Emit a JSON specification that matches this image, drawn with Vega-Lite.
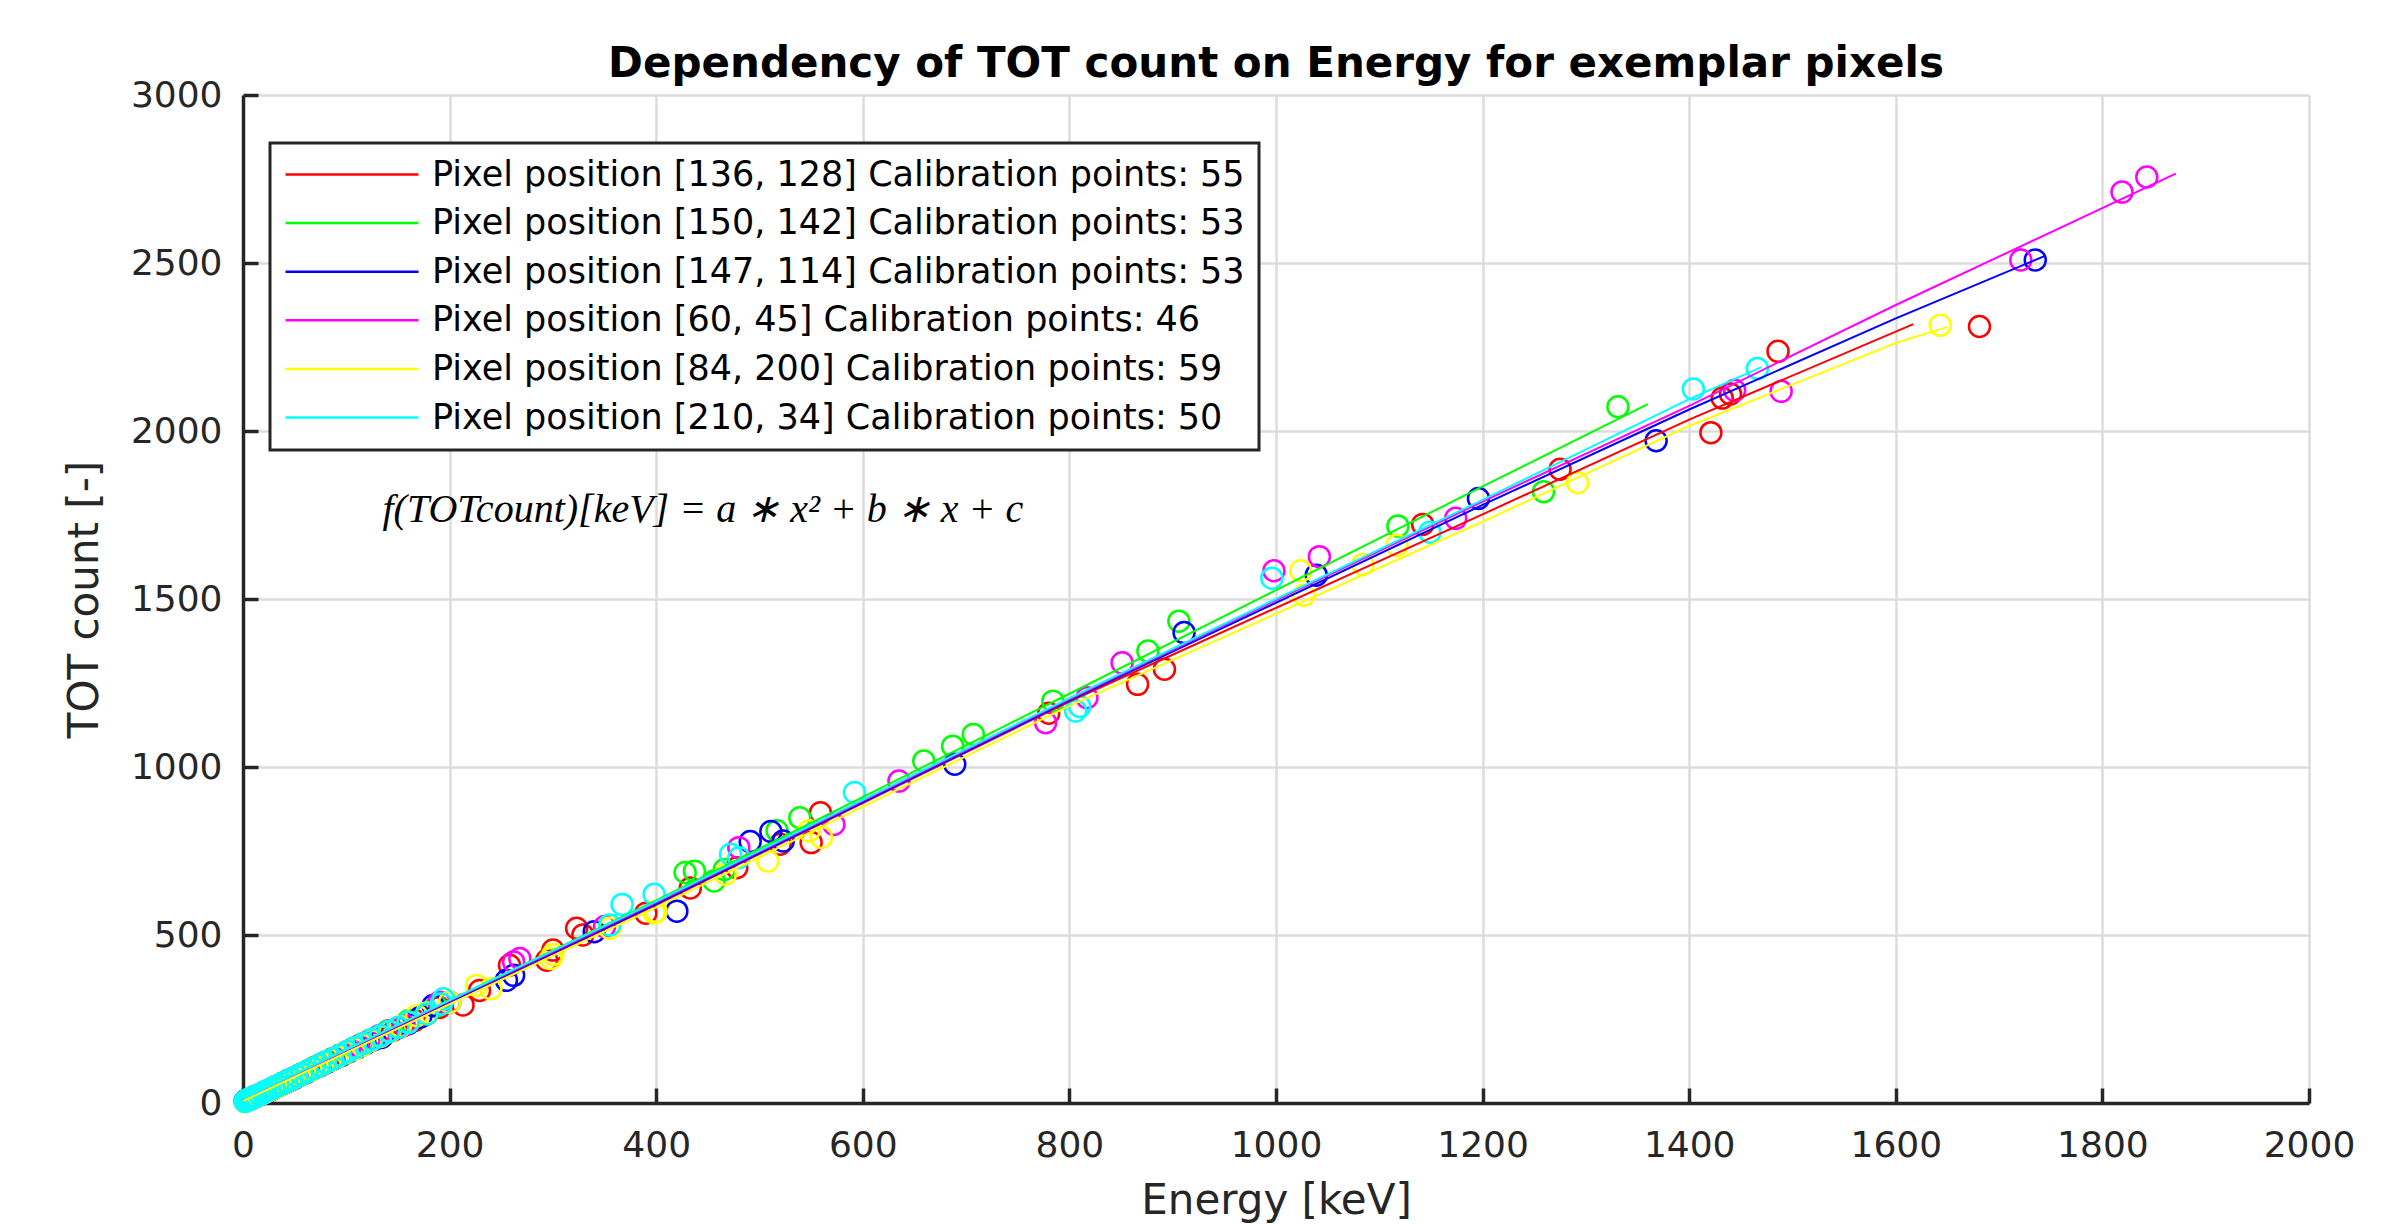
{
"$schema": "https://vega.github.io/schema/vega-lite/v6.json",
"width": 2066, "height": 1008,
"autosize": {"type": "none"},
"padding": {"left": 243, "top": 95, "right": 96, "bottom": 121},
"background": "white",
"title": {"text": "Dependency of TOT count on Energy for exemplar pixels", "font": "DejaVu Sans", "fontSize": 42, "fontWeight": "bold", "color": "black", "anchor": "middle", "baseline": "bottom", "offset": 14, "dy": 65},
"config": {"view": {"stroke": null}, "legend": {"strokeWidth": 3}},
"datasets": {
"fit": [
{"s":"Pixel position [136, 128] Calibration points: 55","E":0,"T":8},{"s":"Pixel position [136, 128] Calibration points: 55","E":400,"T":590},{"s":"Pixel position [136, 128] Calibration points: 55","E":800,"T":1195},{"s":"Pixel position [136, 128] Calibration points: 55","E":1200,"T":1752},{"s":"Pixel position [136, 128] Calibration points: 55","E":1400,"T":2034},{"s":"Pixel position [136, 128] Calibration points: 55","E":1617,"T":2318},
{"s":"Pixel position [150, 142] Calibration points: 53","E":0,"T":8},{"s":"Pixel position [150, 142] Calibration points: 53","E":400,"T":603},{"s":"Pixel position [150, 142] Calibration points: 53","E":800,"T":1218},{"s":"Pixel position [150, 142] Calibration points: 53","E":1200,"T":1835},{"s":"Pixel position [150, 142] Calibration points: 53","E":1360,"T":2080},
{"s":"Pixel position [147, 114] Calibration points: 53","E":0,"T":8},{"s":"Pixel position [147, 114] Calibration points: 53","E":400,"T":592},{"s":"Pixel position [147, 114] Calibration points: 53","E":800,"T":1198},{"s":"Pixel position [147, 114] Calibration points: 53","E":1200,"T":1780},{"s":"Pixel position [147, 114] Calibration points: 53","E":1400,"T":2064},{"s":"Pixel position [147, 114] Calibration points: 53","E":1600,"T":2335},{"s":"Pixel position [147, 114] Calibration points: 53","E":1745,"T":2522},
{"s":"Pixel position [60, 45] Calibration points: 46","E":0,"T":10},{"s":"Pixel position [60, 45] Calibration points: 46","E":400,"T":597},{"s":"Pixel position [60, 45] Calibration points: 46","E":800,"T":1202},{"s":"Pixel position [60, 45] Calibration points: 46","E":1200,"T":1790},{"s":"Pixel position [60, 45] Calibration points: 46","E":1400,"T":2075},{"s":"Pixel position [60, 45] Calibration points: 46","E":1600,"T":2375},{"s":"Pixel position [60, 45] Calibration points: 46","E":1871,"T":2766},
{"s":"Pixel position [84, 200] Calibration points: 59","E":0,"T":6},{"s":"Pixel position [84, 200] Calibration points: 59","E":400,"T":582},{"s":"Pixel position [84, 200] Calibration points: 59","E":800,"T":1182},{"s":"Pixel position [84, 200] Calibration points: 59","E":1200,"T":1730},{"s":"Pixel position [84, 200] Calibration points: 59","E":1400,"T":2015},{"s":"Pixel position [84, 200] Calibration points: 59","E":1600,"T":2262},{"s":"Pixel position [84, 200] Calibration points: 59","E":1650,"T":2310},
{"s":"Pixel position [210, 34] Calibration points: 50","E":0,"T":12},{"s":"Pixel position [210, 34] Calibration points: 50","E":400,"T":600},{"s":"Pixel position [210, 34] Calibration points: 50","E":800,"T":1205},{"s":"Pixel position [210, 34] Calibration points: 50","E":1200,"T":1795},{"s":"Pixel position [210, 34] Calibration points: 50","E":1400,"T":2095},{"s":"Pixel position [210, 34] Calibration points: 50","E":1470,"T":2190}
],
"pts": [
{"s":"Pixel position [136, 128] Calibration points: 55","E":3,"T":7},{"s":"Pixel position [136, 128] Calibration points: 55","E":5,"T":10},{"s":"Pixel position [136, 128] Calibration points: 55","E":8,"T":13},{"s":"Pixel position [136, 128] Calibration points: 55","E":11,"T":18},{"s":"Pixel position [136, 128] Calibration points: 55","E":14,"T":22},{"s":"Pixel position [136, 128] Calibration points: 55","E":17,"T":26},{"s":"Pixel position [136, 128] Calibration points: 55","E":20,"T":31},{"s":"Pixel position [136, 128] Calibration points: 55","E":24,"T":36},{"s":"Pixel position [136, 128] Calibration points: 55","E":28,"T":42},{"s":"Pixel position [136, 128] Calibration points: 55","E":32,"T":49},{"s":"Pixel position [136, 128] Calibration points: 55","E":36,"T":54},{"s":"Pixel position [136, 128] Calibration points: 55","E":41,"T":62},{"s":"Pixel position [136, 128] Calibration points: 55","E":46,"T":68},{"s":"Pixel position [136, 128] Calibration points: 55","E":51,"T":77},{"s":"Pixel position [136, 128] Calibration points: 55","E":56,"T":84},{"s":"Pixel position [136, 128] Calibration points: 55","E":60,"T":89},{"s":"Pixel position [136, 128] Calibration points: 55","E":65,"T":97},{"s":"Pixel position [136, 128] Calibration points: 55","E":70,"T":106},{"s":"Pixel position [136, 128] Calibration points: 55","E":76,"T":113},{"s":"Pixel position [136, 128] Calibration points: 55","E":82,"T":122},{"s":"Pixel position [136, 128] Calibration points: 55","E":88,"T":132},{"s":"Pixel position [136, 128] Calibration points: 55","E":95,"T":141},{"s":"Pixel position [136, 128] Calibration points: 55","E":102,"T":152},{"s":"Pixel position [136, 128] Calibration points: 55","E":110,"T":163},{"s":"Pixel position [136, 128] Calibration points: 55","E":118,"T":176},{"s":"Pixel position [136, 128] Calibration points: 55","E":126,"T":188},{"s":"Pixel position [136, 128] Calibration points: 55","E":135,"T":200},{"s":"Pixel position [136, 128] Calibration points: 55","E":145,"T":216},{"s":"Pixel position [136, 128] Calibration points: 55","E":155,"T":230},{"s":"Pixel position [136, 128] Calibration points: 55","E":166,"T":246},{"s":"Pixel position [136, 128] Calibration points: 55","E":178,"T":265},{"s":"Pixel position [136, 128] Calibration points: 55","E":190,"T":284},{"s":"Pixel position [136, 128] Calibration points: 55","E":213,"T":292},
{"s":"Pixel position [136, 128] Calibration points: 55","E":229,"T":335},{"s":"Pixel position [136, 128] Calibration points: 55","E":258,"T":410},{"s":"Pixel position [136, 128] Calibration points: 55","E":294,"T":425},{"s":"Pixel position [136, 128] Calibration points: 55","E":300,"T":455},{"s":"Pixel position [136, 128] Calibration points: 55","E":323,"T":520},{"s":"Pixel position [136, 128] Calibration points: 55","E":329,"T":500},{"s":"Pixel position [136, 128] Calibration points: 55","E":390,"T":565},{"s":"Pixel position [136, 128] Calibration points: 55","E":433,"T":640},{"s":"Pixel position [136, 128] Calibration points: 55","E":478,"T":700},{"s":"Pixel position [136, 128] Calibration points: 55","E":520,"T":770},{"s":"Pixel position [136, 128] Calibration points: 55","E":550,"T":775},{"s":"Pixel position [136, 128] Calibration points: 55","E":559,"T":864},{"s":"Pixel position [136, 128] Calibration points: 55","E":780,"T":1160},{"s":"Pixel position [136, 128] Calibration points: 55","E":866,"T":1246},{"s":"Pixel position [136, 128] Calibration points: 55","E":892,"T":1291},{"s":"Pixel position [136, 128] Calibration points: 55","E":1142,"T":1722},{"s":"Pixel position [136, 128] Calibration points: 55","E":1275,"T":1886},{"s":"Pixel position [136, 128] Calibration points: 55","E":1421,"T":1995},{"s":"Pixel position [136, 128] Calibration points: 55","E":1432,"T":2098},{"s":"Pixel position [136, 128] Calibration points: 55","E":1440,"T":2110},{"s":"Pixel position [136, 128] Calibration points: 55","E":1486,"T":2237},{"s":"Pixel position [136, 128] Calibration points: 55","E":1681,"T":2311},
{"s":"Pixel position [150, 142] Calibration points: 53","E":2,"T":5},{"s":"Pixel position [150, 142] Calibration points: 53","E":3,"T":8},{"s":"Pixel position [150, 142] Calibration points: 53","E":5,"T":9},{"s":"Pixel position [150, 142] Calibration points: 53","E":6,"T":11},{"s":"Pixel position [150, 142] Calibration points: 53","E":8,"T":13},{"s":"Pixel position [150, 142] Calibration points: 53","E":9,"T":15},{"s":"Pixel position [150, 142] Calibration points: 53","E":11,"T":17},{"s":"Pixel position [150, 142] Calibration points: 53","E":12,"T":19},{"s":"Pixel position [150, 142] Calibration points: 53","E":14,"T":22},{"s":"Pixel position [150, 142] Calibration points: 53","E":15,"T":24},{"s":"Pixel position [150, 142] Calibration points: 53","E":17,"T":26},{"s":"Pixel position [150, 142] Calibration points: 53","E":18,"T":28},{"s":"Pixel position [150, 142] Calibration points: 53","E":21,"T":32},{"s":"Pixel position [150, 142] Calibration points: 53","E":22,"T":34},{"s":"Pixel position [150, 142] Calibration points: 53","E":25,"T":38},{"s":"Pixel position [150, 142] Calibration points: 53","E":26,"T":40},{"s":"Pixel position [150, 142] Calibration points: 53","E":29,"T":44},{"s":"Pixel position [150, 142] Calibration points: 53","E":30,"T":46},{"s":"Pixel position [150, 142] Calibration points: 53","E":34,"T":52},{"s":"Pixel position [150, 142] Calibration points: 53","E":38,"T":58},{"s":"Pixel position [150, 142] Calibration points: 53","E":43,"T":66},{"s":"Pixel position [150, 142] Calibration points: 53","E":48,"T":73},{"s":"Pixel position [150, 142] Calibration points: 53","E":53,"T":81},{"s":"Pixel position [150, 142] Calibration points: 53","E":58,"T":88},{"s":"Pixel position [150, 142] Calibration points: 53","E":63,"T":96},{"s":"Pixel position [150, 142] Calibration points: 53","E":68,"T":104},{"s":"Pixel position [150, 142] Calibration points: 53","E":74,"T":113},{"s":"Pixel position [150, 142] Calibration points: 53","E":80,"T":122},{"s":"Pixel position [150, 142] Calibration points: 53","E":86,"T":131},{"s":"Pixel position [150, 142] Calibration points: 53","E":93,"T":141},{"s":"Pixel position [150, 142] Calibration points: 53","E":100,"T":152},{"s":"Pixel position [150, 142] Calibration points: 53","E":107,"T":163},{"s":"Pixel position [150, 142] Calibration points: 53","E":115,"T":175},{"s":"Pixel position [150, 142] Calibration points: 53","E":123,"T":187},{"s":"Pixel position [150, 142] Calibration points: 53","E":131,"T":199},{"s":"Pixel position [150, 142] Calibration points: 53","E":140,"T":214},{"s":"Pixel position [150, 142] Calibration points: 53","E":160,"T":245},{"s":"Pixel position [150, 142] Calibration points: 53","E":187,"T":288},
{"s":"Pixel position [150, 142] Calibration points: 53","E":428,"T":686},{"s":"Pixel position [150, 142] Calibration points: 53","E":437,"T":690},{"s":"Pixel position [150, 142] Calibration points: 53","E":456,"T":661},{"s":"Pixel position [150, 142] Calibration points: 53","E":466,"T":695},{"s":"Pixel position [150, 142] Calibration points: 53","E":517,"T":810},{"s":"Pixel position [150, 142] Calibration points: 53","E":539,"T":849},{"s":"Pixel position [150, 142] Calibration points: 53","E":659,"T":1018},{"s":"Pixel position [150, 142] Calibration points: 53","E":687,"T":1062},{"s":"Pixel position [150, 142] Calibration points: 53","E":707,"T":1097},{"s":"Pixel position [150, 142] Calibration points: 53","E":784,"T":1196},{"s":"Pixel position [150, 142] Calibration points: 53","E":876,"T":1345},{"s":"Pixel position [150, 142] Calibration points: 53","E":906,"T":1434},{"s":"Pixel position [150, 142] Calibration points: 53","E":1118,"T":1717},{"s":"Pixel position [150, 142] Calibration points: 53","E":1259,"T":1819},{"s":"Pixel position [150, 142] Calibration points: 53","E":1331,"T":2072},
{"s":"Pixel position [147, 114] Calibration points: 53","E":2,"T":6},{"s":"Pixel position [147, 114] Calibration points: 53","E":4,"T":8},{"s":"Pixel position [147, 114] Calibration points: 53","E":6,"T":10},{"s":"Pixel position [147, 114] Calibration points: 53","E":8,"T":13},{"s":"Pixel position [147, 114] Calibration points: 53","E":10,"T":16},{"s":"Pixel position [147, 114] Calibration points: 53","E":12,"T":19},{"s":"Pixel position [147, 114] Calibration points: 53","E":14,"T":22},{"s":"Pixel position [147, 114] Calibration points: 53","E":16,"T":25},{"s":"Pixel position [147, 114] Calibration points: 53","E":18,"T":27},{"s":"Pixel position [147, 114] Calibration points: 53","E":20,"T":30},{"s":"Pixel position [147, 114] Calibration points: 53","E":23,"T":34},{"s":"Pixel position [147, 114] Calibration points: 53","E":25,"T":37},{"s":"Pixel position [147, 114] Calibration points: 53","E":28,"T":42},{"s":"Pixel position [147, 114] Calibration points: 53","E":30,"T":45},{"s":"Pixel position [147, 114] Calibration points: 53","E":33,"T":49},{"s":"Pixel position [147, 114] Calibration points: 53","E":35,"T":52},{"s":"Pixel position [147, 114] Calibration points: 53","E":38,"T":57},{"s":"Pixel position [147, 114] Calibration points: 53","E":40,"T":60},{"s":"Pixel position [147, 114] Calibration points: 53","E":43,"T":64},{"s":"Pixel position [147, 114] Calibration points: 53","E":45,"T":67},{"s":"Pixel position [147, 114] Calibration points: 53","E":48,"T":72},{"s":"Pixel position [147, 114] Calibration points: 53","E":50,"T":74},{"s":"Pixel position [147, 114] Calibration points: 53","E":55,"T":82},{"s":"Pixel position [147, 114] Calibration points: 53","E":61,"T":91},{"s":"Pixel position [147, 114] Calibration points: 53","E":67,"T":100},{"s":"Pixel position [147, 114] Calibration points: 53","E":73,"T":109},{"s":"Pixel position [147, 114] Calibration points: 53","E":80,"T":119},{"s":"Pixel position [147, 114] Calibration points: 53","E":87,"T":130},{"s":"Pixel position [147, 114] Calibration points: 53","E":94,"T":140},{"s":"Pixel position [147, 114] Calibration points: 53","E":102,"T":152},{"s":"Pixel position [147, 114] Calibration points: 53","E":110,"T":164},{"s":"Pixel position [147, 114] Calibration points: 53","E":118,"T":176},{"s":"Pixel position [147, 114] Calibration points: 53","E":127,"T":189},{"s":"Pixel position [147, 114] Calibration points: 53","E":134,"T":195},{"s":"Pixel position [147, 114] Calibration points: 53","E":140,"T":210},{"s":"Pixel position [147, 114] Calibration points: 53","E":150,"T":224},{"s":"Pixel position [147, 114] Calibration points: 53","E":160,"T":236},{"s":"Pixel position [147, 114] Calibration points: 53","E":172,"T":256},{"s":"Pixel position [147, 114] Calibration points: 53","E":184,"T":290},{"s":"Pixel position [147, 114] Calibration points: 53","E":200,"T":300},
{"s":"Pixel position [147, 114] Calibration points: 53","E":255,"T":365},{"s":"Pixel position [147, 114] Calibration points: 53","E":262,"T":380},{"s":"Pixel position [147, 114] Calibration points: 53","E":340,"T":510},{"s":"Pixel position [147, 114] Calibration points: 53","E":420,"T":571},{"s":"Pixel position [147, 114] Calibration points: 53","E":491,"T":778},{"s":"Pixel position [147, 114] Calibration points: 53","E":511,"T":808},{"s":"Pixel position [147, 114] Calibration points: 53","E":523,"T":780},{"s":"Pixel position [147, 114] Calibration points: 53","E":689,"T":1008},{"s":"Pixel position [147, 114] Calibration points: 53","E":911,"T":1400},{"s":"Pixel position [147, 114] Calibration points: 53","E":1039,"T":1571},{"s":"Pixel position [147, 114] Calibration points: 53","E":1196,"T":1799},{"s":"Pixel position [147, 114] Calibration points: 53","E":1368,"T":1971},{"s":"Pixel position [147, 114] Calibration points: 53","E":1735,"T":2509},
{"s":"Pixel position [60, 45] Calibration points: 46","E":3,"T":7},{"s":"Pixel position [60, 45] Calibration points: 46","E":5,"T":10},{"s":"Pixel position [60, 45] Calibration points: 46","E":7,"T":12},{"s":"Pixel position [60, 45] Calibration points: 46","E":9,"T":15},{"s":"Pixel position [60, 45] Calibration points: 46","E":11,"T":18},{"s":"Pixel position [60, 45] Calibration points: 46","E":13,"T":21},{"s":"Pixel position [60, 45] Calibration points: 46","E":16,"T":24},{"s":"Pixel position [60, 45] Calibration points: 46","E":18,"T":27},{"s":"Pixel position [60, 45] Calibration points: 46","E":21,"T":31},{"s":"Pixel position [60, 45] Calibration points: 46","E":23,"T":35},{"s":"Pixel position [60, 45] Calibration points: 46","E":26,"T":39},{"s":"Pixel position [60, 45] Calibration points: 46","E":28,"T":42},{"s":"Pixel position [60, 45] Calibration points: 46","E":33,"T":50},{"s":"Pixel position [60, 45] Calibration points: 46","E":39,"T":58},{"s":"Pixel position [60, 45] Calibration points: 46","E":45,"T":68},{"s":"Pixel position [60, 45] Calibration points: 46","E":51,"T":77},{"s":"Pixel position [60, 45] Calibration points: 46","E":57,"T":86},{"s":"Pixel position [60, 45] Calibration points: 46","E":64,"T":96},{"s":"Pixel position [60, 45] Calibration points: 46","E":71,"T":107},{"s":"Pixel position [60, 45] Calibration points: 46","E":78,"T":118},{"s":"Pixel position [60, 45] Calibration points: 46","E":86,"T":130},{"s":"Pixel position [60, 45] Calibration points: 46","E":94,"T":142},{"s":"Pixel position [60, 45] Calibration points: 46","E":103,"T":155},{"s":"Pixel position [60, 45] Calibration points: 46","E":112,"T":170},{"s":"Pixel position [60, 45] Calibration points: 46","E":122,"T":184},{"s":"Pixel position [60, 45] Calibration points: 46","E":132,"T":200},{"s":"Pixel position [60, 45] Calibration points: 46","E":142,"T":215},{"s":"Pixel position [60, 45] Calibration points: 46","E":156,"T":232},{"s":"Pixel position [60, 45] Calibration points: 46","E":190,"T":300},{"s":"Pixel position [60, 45] Calibration points: 46","E":262,"T":420},{"s":"Pixel position [60, 45] Calibration points: 46","E":268,"T":430},
{"s":"Pixel position [60, 45] Calibration points: 46","E":350,"T":525},{"s":"Pixel position [60, 45] Calibration points: 46","E":480,"T":760},{"s":"Pixel position [60, 45] Calibration points: 46","E":572,"T":829},{"s":"Pixel position [60, 45] Calibration points: 46","E":635,"T":958},{"s":"Pixel position [60, 45] Calibration points: 46","E":777,"T":1132},{"s":"Pixel position [60, 45] Calibration points: 46","E":817,"T":1206},{"s":"Pixel position [60, 45] Calibration points: 46","E":851,"T":1310},{"s":"Pixel position [60, 45] Calibration points: 46","E":998,"T":1584},{"s":"Pixel position [60, 45] Calibration points: 46","E":1042,"T":1626},{"s":"Pixel position [60, 45] Calibration points: 46","E":1174,"T":1740},{"s":"Pixel position [60, 45] Calibration points: 46","E":1444,"T":2121},{"s":"Pixel position [60, 45] Calibration points: 46","E":1489,"T":2118},{"s":"Pixel position [60, 45] Calibration points: 46","E":1721,"T":2509},{"s":"Pixel position [60, 45] Calibration points: 46","E":1819,"T":2711},{"s":"Pixel position [60, 45] Calibration points: 46","E":1843,"T":2756},
{"s":"Pixel position [84, 200] Calibration points: 59","E":2,"T":4},{"s":"Pixel position [84, 200] Calibration points: 59","E":3,"T":6},{"s":"Pixel position [84, 200] Calibration points: 59","E":5,"T":9},{"s":"Pixel position [84, 200] Calibration points: 59","E":6,"T":11},{"s":"Pixel position [84, 200] Calibration points: 59","E":8,"T":13},{"s":"Pixel position [84, 200] Calibration points: 59","E":9,"T":15},{"s":"Pixel position [84, 200] Calibration points: 59","E":11,"T":17},{"s":"Pixel position [84, 200] Calibration points: 59","E":12,"T":19},{"s":"Pixel position [84, 200] Calibration points: 59","E":14,"T":21},{"s":"Pixel position [84, 200] Calibration points: 59","E":15,"T":24},{"s":"Pixel position [84, 200] Calibration points: 59","E":17,"T":26},{"s":"Pixel position [84, 200] Calibration points: 59","E":19,"T":29},{"s":"Pixel position [84, 200] Calibration points: 59","E":20,"T":31},{"s":"Pixel position [84, 200] Calibration points: 59","E":22,"T":34},{"s":"Pixel position [84, 200] Calibration points: 59","E":24,"T":36},{"s":"Pixel position [84, 200] Calibration points: 59","E":26,"T":40},{"s":"Pixel position [84, 200] Calibration points: 59","E":28,"T":42},{"s":"Pixel position [84, 200] Calibration points: 59","E":30,"T":45},{"s":"Pixel position [84, 200] Calibration points: 59","E":32,"T":48},{"s":"Pixel position [84, 200] Calibration points: 59","E":34,"T":51},{"s":"Pixel position [84, 200] Calibration points: 59","E":36,"T":54},{"s":"Pixel position [84, 200] Calibration points: 59","E":40,"T":60},{"s":"Pixel position [84, 200] Calibration points: 59","E":45,"T":67},{"s":"Pixel position [84, 200] Calibration points: 59","E":50,"T":75},{"s":"Pixel position [84, 200] Calibration points: 59","E":55,"T":82},{"s":"Pixel position [84, 200] Calibration points: 59","E":60,"T":90},{"s":"Pixel position [84, 200] Calibration points: 59","E":66,"T":98},{"s":"Pixel position [84, 200] Calibration points: 59","E":72,"T":108},{"s":"Pixel position [84, 200] Calibration points: 59","E":78,"T":117},{"s":"Pixel position [84, 200] Calibration points: 59","E":85,"T":127},{"s":"Pixel position [84, 200] Calibration points: 59","E":92,"T":138},{"s":"Pixel position [84, 200] Calibration points: 59","E":100,"T":150},{"s":"Pixel position [84, 200] Calibration points: 59","E":108,"T":160},{"s":"Pixel position [84, 200] Calibration points: 59","E":116,"T":172},{"s":"Pixel position [84, 200] Calibration points: 59","E":124,"T":186},{"s":"Pixel position [84, 200] Calibration points: 59","E":133,"T":198},{"s":"Pixel position [84, 200] Calibration points: 59","E":142,"T":212},{"s":"Pixel position [84, 200] Calibration points: 59","E":152,"T":228},{"s":"Pixel position [84, 200] Calibration points: 59","E":160,"T":240},{"s":"Pixel position [84, 200] Calibration points: 59","E":168,"T":260},{"s":"Pixel position [84, 200] Calibration points: 59","E":178,"T":268},{"s":"Pixel position [84, 200] Calibration points: 59","E":200,"T":300},{"s":"Pixel position [84, 200] Calibration points: 59","E":226,"T":350},{"s":"Pixel position [84, 200] Calibration points: 59","E":240,"T":340},
{"s":"Pixel position [84, 200] Calibration points: 59","E":298,"T":430},{"s":"Pixel position [84, 200] Calibration points: 59","E":300,"T":442},{"s":"Pixel position [84, 200] Calibration points: 59","E":355,"T":520},{"s":"Pixel position [84, 200] Calibration points: 59","E":398,"T":566},{"s":"Pixel position [84, 200] Calibration points: 59","E":400,"T":570},{"s":"Pixel position [84, 200] Calibration points: 59","E":467,"T":681},{"s":"Pixel position [84, 200] Calibration points: 59","E":508,"T":720},{"s":"Pixel position [84, 200] Calibration points: 59","E":548,"T":810},{"s":"Pixel position [84, 200] Calibration points: 59","E":560,"T":790},{"s":"Pixel position [84, 200] Calibration points: 59","E":1024,"T":1584},{"s":"Pixel position [84, 200] Calibration points: 59","E":1027,"T":1511},{"s":"Pixel position [84, 200] Calibration points: 59","E":1084,"T":1603},{"s":"Pixel position [84, 200] Calibration points: 59","E":1117,"T":1660},{"s":"Pixel position [84, 200] Calibration points: 59","E":1292,"T":1846},{"s":"Pixel position [84, 200] Calibration points: 59","E":1643,"T":2315},
{"s":"Pixel position [210, 34] Calibration points: 50","E":2,"T":5},{"s":"Pixel position [210, 34] Calibration points: 50","E":3,"T":7},{"s":"Pixel position [210, 34] Calibration points: 50","E":4,"T":8},{"s":"Pixel position [210, 34] Calibration points: 50","E":6,"T":11},{"s":"Pixel position [210, 34] Calibration points: 50","E":7,"T":12},{"s":"Pixel position [210, 34] Calibration points: 50","E":8,"T":14},{"s":"Pixel position [210, 34] Calibration points: 50","E":10,"T":17},{"s":"Pixel position [210, 34] Calibration points: 50","E":12,"T":19},{"s":"Pixel position [210, 34] Calibration points: 50","E":13,"T":21},{"s":"Pixel position [210, 34] Calibration points: 50","E":16,"T":25},{"s":"Pixel position [210, 34] Calibration points: 50","E":19,"T":30},{"s":"Pixel position [210, 34] Calibration points: 50","E":20,"T":31},{"s":"Pixel position [210, 34] Calibration points: 50","E":22,"T":35},{"s":"Pixel position [210, 34] Calibration points: 50","E":26,"T":40},{"s":"Pixel position [210, 34] Calibration points: 50","E":30,"T":46},{"s":"Pixel position [210, 34] Calibration points: 50","E":34,"T":52},{"s":"Pixel position [210, 34] Calibration points: 50","E":38,"T":58},{"s":"Pixel position [210, 34] Calibration points: 50","E":42,"T":64},{"s":"Pixel position [210, 34] Calibration points: 50","E":47,"T":71},{"s":"Pixel position [210, 34] Calibration points: 50","E":52,"T":79},{"s":"Pixel position [210, 34] Calibration points: 50","E":57,"T":86},{"s":"Pixel position [210, 34] Calibration points: 50","E":62,"T":94},{"s":"Pixel position [210, 34] Calibration points: 50","E":68,"T":103},{"s":"Pixel position [210, 34] Calibration points: 50","E":74,"T":112},{"s":"Pixel position [210, 34] Calibration points: 50","E":80,"T":121},{"s":"Pixel position [210, 34] Calibration points: 50","E":87,"T":131},{"s":"Pixel position [210, 34] Calibration points: 50","E":94,"T":142},{"s":"Pixel position [210, 34] Calibration points: 50","E":101,"T":153},{"s":"Pixel position [210, 34] Calibration points: 50","E":109,"T":165},{"s":"Pixel position [210, 34] Calibration points: 50","E":117,"T":177},{"s":"Pixel position [210, 34] Calibration points: 50","E":125,"T":189},{"s":"Pixel position [210, 34] Calibration points: 50","E":133,"T":200},{"s":"Pixel position [210, 34] Calibration points: 50","E":141,"T":213},{"s":"Pixel position [210, 34] Calibration points: 50","E":150,"T":225},{"s":"Pixel position [210, 34] Calibration points: 50","E":160,"T":240},{"s":"Pixel position [210, 34] Calibration points: 50","E":178,"T":265},{"s":"Pixel position [210, 34] Calibration points: 50","E":192,"T":295},{"s":"Pixel position [210, 34] Calibration points: 50","E":194,"T":310},
{"s":"Pixel position [210, 34] Calibration points: 50","E":355,"T":530},{"s":"Pixel position [210, 34] Calibration points: 50","E":367,"T":591},{"s":"Pixel position [210, 34] Calibration points: 50","E":398,"T":621},{"s":"Pixel position [210, 34] Calibration points: 50","E":472,"T":740},{"s":"Pixel position [210, 34] Calibration points: 50","E":480,"T":730},{"s":"Pixel position [210, 34] Calibration points: 50","E":592,"T":924},{"s":"Pixel position [210, 34] Calibration points: 50","E":806,"T":1167},{"s":"Pixel position [210, 34] Calibration points: 50","E":810,"T":1180},{"s":"Pixel position [210, 34] Calibration points: 50","E":996,"T":1562},{"s":"Pixel position [210, 34] Calibration points: 50","E":1149,"T":1699},{"s":"Pixel position [210, 34] Calibration points: 50","E":1404,"T":2125},{"s":"Pixel position [210, 34] Calibration points: 50","E":1466,"T":2186}
]
},
"encoding": {
"x": {"field": "E", "type": "quantitative", "title": "Energy [keV]", "scale": {"domain": [0, 2000], "nice": false, "zero": false},
 "axis": {"values": [0,200,400,600,800,1000,1200,1400,1600,1800,2000], "format": "d", "grid": true, "gridColor": "#dcdcdc", "gridWidth": 2.5, "domainColor": "#262626", "domainWidth": 3.5, "tickColor": "#262626", "tickWidth": 3.5, "tickSize": -15, "labelPadding": 40, "labelFont": "DejaVu Sans", "labelFontSize": 36, "labelColor": "#262626", "labelFlush": false, "labelOverlap": false, "titleFont": "DejaVu Sans", "titleFontSize": 42, "titleFontWeight": "normal", "titleColor": "#262626", "titleBaseline": "alphabetic", "titleY": 110}},
"y": {"field": "T", "type": "quantitative", "title": "TOT count [-]", "scale": {"domain": [0, 3000], "nice": false, "zero": false},
 "axis": {"values": [0,500,1000,1500,2000,2500,3000], "format": "d", "grid": true, "gridColor": "#dcdcdc", "gridWidth": 2.5, "domainColor": "#262626", "domainWidth": 3.5, "tickColor": "#262626", "tickWidth": 3.5, "tickSize": -15, "labelPadding": 36, "labelFont": "DejaVu Sans", "labelFontSize": 36, "labelColor": "#262626", "labelFlush": false, "labelOverlap": false, "titleFont": "DejaVu Sans", "titleFontSize": 42, "titleFontWeight": "normal", "titleColor": "#262626", "titleAngle": 270, "titleBaseline": "middle", "titleAlign": "center", "titleX": -159, "titleY": 504}}
},
"layer": [
{"data": {"name": "pts"},
 "mark": {"type": "point", "shape": "circle", "filled": false, "size": 441, "strokeWidth": 2.5, "opacity": 1},
 "encoding": {"color": {"field": "s", "type": "nominal",
  "scale": {"domain": ["Pixel position [136, 128] Calibration points: 55","Pixel position [150, 142] Calibration points: 53","Pixel position [147, 114] Calibration points: 53","Pixel position [60, 45] Calibration points: 46","Pixel position [84, 200] Calibration points: 59","Pixel position [210, 34] Calibration points: 50"], "range": ["#ff0000","#00ff00","#0000ff","#ff00ff","#ffff00","#00ffff"]},
  "legend": {"title": null, "orient": "none", "legendX": 27, "legendY": 48, "direction": "vertical", "symbolType": "stroke", "symbolSize": 17689, "symbolStrokeWidth": 2.5, "clipHeight": 35, "rowPadding": 12.6, "padding": 14, "labelFont": "DejaVu Sans", "labelFontSize": 35, "labelColor": "black", "labelOffset": 12, "labelLimit": 0, "labelBaseline": "middle", "strokeColor": "#262626", "fillColor": "white", "cornerRadius": 0}}}},
{"data": {"name": "fit"},
 "mark": {"type": "line", "strokeWidth": 2},
 "encoding": {"color": {"field": "s", "type": "nominal",
  "scale": {"domain": ["Pixel position [136, 128] Calibration points: 55","Pixel position [150, 142] Calibration points: 53","Pixel position [147, 114] Calibration points: 53","Pixel position [60, 45] Calibration points: 46","Pixel position [84, 200] Calibration points: 59","Pixel position [210, 34] Calibration points: 50"], "range": ["#ff0000","#00ff00","#0000ff","#ff00ff","#ffff00","#00ffff"]},
  "legend": {"title": null, "orient": "none", "legendX": 27, "legendY": 48, "direction": "vertical", "symbolType": "stroke", "symbolSize": 17689, "symbolStrokeWidth": 2.5, "clipHeight": 35, "rowPadding": 12.6, "padding": 14, "labelFont": "DejaVu Sans", "labelFontSize": 35, "labelColor": "black", "labelOffset": 12, "labelLimit": 0, "labelBaseline": "middle", "strokeColor": "#262626", "fillColor": "white", "cornerRadius": 0}}}},
{"data": {"values": [{"label": "f(TOTcount)[keV] = a ∗ x² + b ∗ x + c", "E": 135, "T": 1765}]},
 "mark": {"type": "text", "font": "Liberation Serif", "fontStyle": "italic", "fontSize": 40, "align": "left", "baseline": "middle", "fill": "black"},
 "encoding": {"text": {"field": "label", "type": "nominal"}}}
]
}
